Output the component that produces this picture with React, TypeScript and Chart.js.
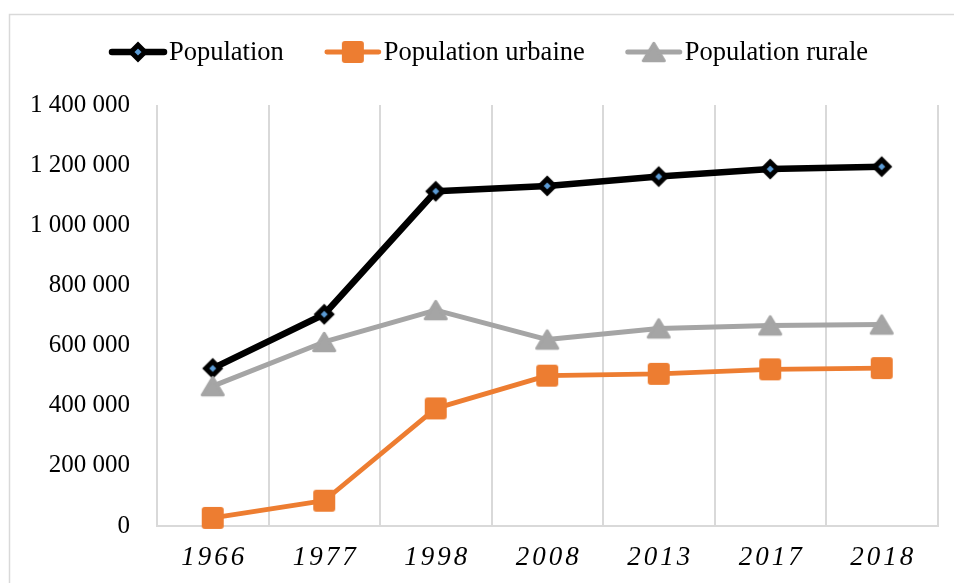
import React, { useEffect, useRef } from 'react';
import { Chart, registerables } from 'chart.js';

Chart.register(...registerables);

const categories = ['1966', '1977', '1998', '2008', '2013', '2017', '2018'];
const population = [524000, 704000, 1113000, 1131000, 1162000, 1187000, 1195000];
const populationUrbaine = [27000, 84000, 391000, 500000, 506000, 521000, 525000];
const populationRurale = [465000, 612000, 718000, 620000, 657000, 667000, 670000];
const seriesNames = ['Population', 'Population urbaine', 'Population rurale'];
const yMin = 0;
const yMax = 1400000;
const yStep = 200000;

const SERIF = '"Liberation Serif", "Times New Roman", serif';
const GRID = '#D9D9D9';
const BLACK = '#000000';
const ORANGE = '#ED7D31';
const GRAY = '#A5A5A5';
const BLUE = '#5B9BD5';

function fmt(v: number): string {
  return String(v).replace(/\B(?=(\d{3})+(?!\d))/g, ' ');
}

function makeDiamond(): HTMLCanvasElement {
  const c = document.createElement('canvas');
  c.width = 26; c.height = 26;
  const ctx = c.getContext('2d')!;
  const cx = 13, cy = 13, r = 7;
  ctx.beginPath();
  ctx.moveTo(cx - r, cy); ctx.lineTo(cx, cy - r); ctx.lineTo(cx + r, cy); ctx.lineTo(cx, cy + r);
  ctx.closePath();
  ctx.fillStyle = BLUE; ctx.fill();
  ctx.lineWidth = 5; ctx.lineJoin = 'miter'; ctx.strokeStyle = BLACK; ctx.stroke();
  return c;
}

function makeSquare(): HTMLCanvasElement {
  const c = document.createElement('canvas');
  c.width = 26; c.height = 26;
  const ctx = c.getContext('2d')!;
  const s = 22, x = (26 - s) / 2, y = (26 - s) / 2, rr = 3;
  ctx.beginPath();
  ctx.moveTo(x + rr, y);
  ctx.lineTo(x + s - rr, y); ctx.quadraticCurveTo(x + s, y, x + s, y + rr);
  ctx.lineTo(x + s, y + s - rr); ctx.quadraticCurveTo(x + s, y + s, x + s - rr, y + s);
  ctx.lineTo(x + rr, y + s); ctx.quadraticCurveTo(x, y + s, x, y + s - rr);
  ctx.lineTo(x, y + rr); ctx.quadraticCurveTo(x, y, x + rr, y);
  ctx.closePath();
  ctx.fillStyle = ORANGE; ctx.fill();
  return c;
}

function makeTriangle(): HTMLCanvasElement {
  const c = document.createElement('canvas');
  c.width = 28; c.height = 26;
  const ctx = c.getContext('2d')!;
  ctx.beginPath();
  ctx.moveTo(14, 4.25); ctx.lineTo(24.5, 21.75); ctx.lineTo(3.5, 21.75);
  ctx.closePath();
  ctx.fillStyle = GRAY; ctx.fill();
  ctx.lineWidth = 3; ctx.lineJoin = 'round'; ctx.strokeStyle = GRAY; ctx.stroke();
  return c;
}

export default function App() {
  const ref = useRef<HTMLCanvasElement | null>(null);

  useEffect(() => {
    const canvas = ref.current;
    if (!canvas) return;
    const markers = [makeDiamond(), makeSquare(), makeTriangle()];
    const colors = [BLACK, ORANGE, GRAY];
    const widths = [6.5, 4.8, 5];

    const framePlugin = {
      id: 'frame',
      beforeDraw(chart: any) {
        const ctx = chart.ctx;
        ctx.save();
        ctx.fillStyle = '#fff';
        ctx.fillRect(0, 0, chart.width, chart.height);
        ctx.strokeStyle = GRID;
        ctx.lineWidth = 1.5;
        ctx.strokeRect(9.5, 14.5, chart.width + 20, chart.height + 20);
        ctx.restore();
      },
    };

    const legendPlugin = {
      id: 'customLegend',
      afterDraw(chart: any) {
        const ctx = chart.ctx;
        ctx.save();
        ctx.font = `26.5px ${SERIF}`;
        ctx.textBaseline = 'middle';
        ctx.textAlign = 'left';
        const lineLen = 56, gapText = 3, gapItem = 41;
        const items = chart.data.datasets.map((d: any) => lineLen + gapText + ctx.measureText(d.label).width);
        const total = items.reduce((a: number, b: number) => a + b, 0) + gapItem * (items.length - 1);
        let x = 489 - total / 2;
        const y = 52;
        chart.data.datasets.forEach((d: any, i: number) => {
          ctx.beginPath();
          ctx.strokeStyle = colors[i];
          ctx.lineWidth = widths[i];
          ctx.lineCap = 'round';
          ctx.moveTo(x + 2, y);
          ctx.lineTo(x + lineLen - 2, y);
          ctx.stroke();
          const m = markers[i];
          ctx.drawImage(m, x + lineLen / 2 - m.width / 2, y - m.height / 2);
          ctx.fillStyle = '#000';
          ctx.fillText(d.label, x + lineLen + gapText, y + 1);
          x += items[i] + gapItem;
        });
        ctx.restore();
      },
    };

    const xLabelPlugin = {
      id: 'xLabels',
      afterDraw(chart: any) {
        const ctx = chart.ctx;
        const xs = chart.scales.x;
        const ls = 3;
        ctx.save();
        ctx.font = `italic 27px ${SERIF}`;
        ctx.fillStyle = '#000';
        ctx.textBaseline = 'middle';
        ctx.textAlign = 'left';
        const y = chart.chartArea.bottom + 32;
        chart.data.labels.forEach((lab: string, i: number) => {
          const cx = xs.getPixelForValue(i);
          const chars = lab.split('');
          const w = chars.reduce((a, ch) => a + ctx.measureText(ch).width, 0) + ls * (chars.length - 1);
          let x = cx - w / 2;
          chars.forEach((ch) => {
            ctx.fillText(ch, x, y);
            x += ctx.measureText(ch).width + ls;
          });
        });
        ctx.restore();
      },
    };

    const chart = new Chart(canvas, {
      type: 'line',
      data: {
        labels: categories,
        datasets: [
          {
            label: seriesNames[0], data: population, borderColor: BLACK, backgroundColor: BLACK,
            borderWidth: widths[0], pointStyle: markers[0] as any, pointRadius: 10, order: 3, clip: false as any,
          },
          {
            label: seriesNames[1], data: populationUrbaine, borderColor: ORANGE, backgroundColor: ORANGE,
            borderWidth: widths[1], pointStyle: markers[1] as any, pointRadius: 10, order: 2, clip: false as any,
          },
          {
            label: seriesNames[2], data: populationRurale, borderColor: GRAY, backgroundColor: GRAY,
            borderWidth: widths[2], pointStyle: markers[2] as any, pointRadius: 10, order: 1, clip: false as any,
          },
        ],
      },
      options: {
        responsive: false,
        animation: false,
        events: [],
        layout: { padding: { left: 0, right: 14, top: 105, bottom: 0 } },
        elements: { line: { tension: 0, borderJoinStyle: 'round', borderCapStyle: 'round' } },
        plugins: { legend: { display: false }, tooltip: { enabled: false }, title: { display: false } },
        scales: {
          x: {
            type: 'category',
            offset: true,
            grid: { offset: true, color: GRID, lineWidth: 2, drawTicks: false },
            border: { color: GRID, width: 2 },
            ticks: { display: false },
            afterFit: (s: any) => { s.height = 57; },
          },
          y: {
            min: yMin,
            max: yMax,
            grid: { display: false, drawTicks: false },
            border: { display: false },
            ticks: {
              stepSize: yStep,
              padding: 27,
              color: '#000',
              font: { family: SERIF, size: 25 },
              callback: (v: any) => fmt(Number(v)),
            },
            afterFit: (s: any) => { s.width = 157; },
          },
        },
      },
      plugins: [framePlugin, legendPlugin, xLabelPlugin],
    });
    return () => chart.destroy();
  }, []);

  return (
    <div style={{ position: 'absolute', left: 0, top: 0, width: 954, height: 583, background: '#fff' }}>
      <canvas ref={ref} width={954} height={583} style={{ display: 'block', width: 954, height: 583 }} />
    </div>
  );
}
